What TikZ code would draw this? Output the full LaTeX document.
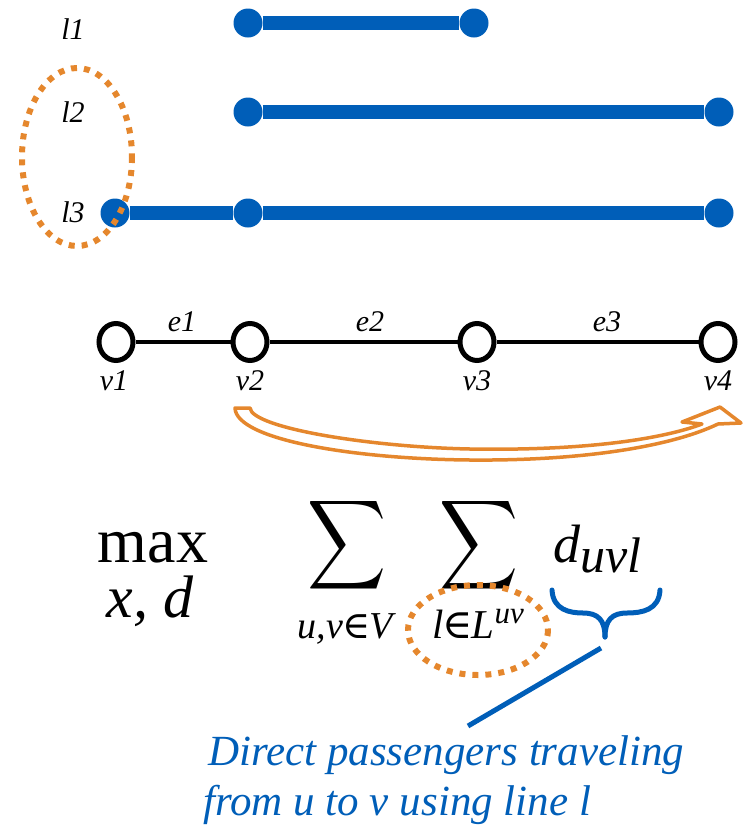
\documentclass[tikz,border=0pt]{standalone}
\usepackage{fontspec}
\setmainfont{Liberation Serif}[ItalicFont={Liberation Serif Italic}]
\newfontfamily\opsym{DejaVu Serif}
\usepackage{graphicx}
\usetikzlibrary{shapes.geometric}

\definecolor{lineblue}{RGB}{0,94,184}
\definecolor{hiorange}{RGB}{229,135,45}

\newcommand{\elemof}{{\upshape\opsym\kern-1pt∈\kern-1pt}}

\tikzset{
  stop/.style={circle, fill=lineblue, inner sep=0pt, minimum size=29pt},
  route/.style={line width=14pt, draw=lineblue},
  lbl/.style={font=\fontsize{30}{36}\selectfont\itshape, inner sep=0pt, anchor=base},
  station/.style={ellipse, draw, line width=5pt, fill=white, minimum width=34pt, minimum height=37pt, inner sep=0pt},
  track/.style={line width=4pt},
  dotring/.style={draw=hiorange, line width=6pt, dash pattern=on 6pt off 7pt},
  formula/.style={inner sep=0pt},
  note/.style={font=\fontsize{43}{48}\selectfont\itshape, text=lineblue, inner sep=0pt, anchor=base west},
}

\begin{document}
\begin{tikzpicture}[x=1pt, y=-1pt]
\useasboundingbox (0,0) rectangle (747,828);

% ---- transit lines l1, l2, l3 ----
\node[lbl] (tl1) at (73,39) {l1};
\node[lbl] (tl2) at (73,122) {l2};
\node[lbl] (tl3) at (73,222) {l3};

\node[stop] (a1) at (248,23) {};
\node[stop] (a2) at (474,23) {};
\node[stop] (b1) at (248,112) {};
\node[stop] (b2) at (719,112) {};
\node[stop] (c0) at (115,213) {};
\node[stop] (c1) at (248,213) {};
\node[stop] (c2) at (719,213) {};

\draw[route] (a1) -- (a2);
\draw[route] (b1) -- (b2);
\draw[route] (c0) -- (c1) -- (c2);

% selected lines
\draw[dotring] (77,157) ellipse [x radius=55, y radius=89];

% ---- network graph ----
\node[station] (v1) at (116,342) {};
\node[station] (v2) at (250,342) {};
\node[station] (v3) at (477,342) {};
\node[station] (v4) at (718,342) {};
\draw[track] (v1) -- (v2) -- (v3) -- (v4);

\node[lbl] (e1) at (182,331) {e1};
\node[lbl] (e2) at (370,331) {e2};
\node[lbl] (e3) at (607,331) {e3};
\node[lbl] (lv1) at (114,390) {v1};
\node[lbl] (lv2) at (250,390) {v2};
\node[lbl] (lv3) at (477,390) {v3};
\node[lbl] (lv4) at (718,390) {v4};

% curved block arrow from v2 towards v4
\draw[hiorange, line width=3.5pt, fill=white, line join=round]
  (235,408) -- (250,408)
  .. controls (252,428) and (370,447) .. (470,449)
  .. controls (590,451) and (665,438) .. (702,424)
  -- (682,422) -- (720,407) -- (741,423) -- (718,424)
  .. controls (670,447) and (580,461) .. (470,460)
  .. controls (355,459) and (236,440) .. (235,408) -- cycle;

% ---- objective ----
\node[formula, anchor=base, font=\fontsize{64}{70}\selectfont] (mx) at (153,562) {max};
\node[formula, anchor=base, font=\fontsize{60}{66}\selectfont\itshape] (xd) at (150,617) {x, d};

\node[formula] (s1) at (347.5,545) {\resizebox*{79pt}{100pt}{$\displaystyle\sum$}};
\node[formula] (s2) at (479,545) {\resizebox*{79pt}{100pt}{$\displaystyle\sum$}};

\node[formula, anchor=base, font=\fontsize{38}{40}\selectfont\itshape] (sub1) at (345,638)
  {u,\kern1pt v\elemof V};
\node[formula, anchor=base, font=\fontsize{41}{44}\selectfont\itshape] (sub2) at (478,638)
  {l\elemof L\raisebox{15pt}{\fontsize{31}{33}\selectfont uv}};

\node[formula, anchor=base west, font=\itshape] (duvl) at (553,562)
  {\fontsize{54}{58}\selectfont d\raisebox{-10pt}{\fontsize{50}{54}\selectfont uvl}};

\draw[dotring] (478,630) ellipse [x radius=70, y radius=45];

% brace under d_uvl
\coordinate (brL) at (552,590);
\coordinate (brR) at (660,590);
\coordinate (brT) at (605,637);
\draw[lineblue, line width=5pt, line cap=round, line join=round]
  (brL) .. controls (553,610) and (570,613) .. (583,613)
        .. controls (598,613) and (605,620) .. (brT);
\draw[lineblue, line width=5pt, line cap=round, line join=round]
  (brR) .. controls (659,610) and (642,613) .. (627,613)
        .. controls (612,613) and (605,620) .. (brT);

% leader to the explanation
\coordinate (ldA) at (601,648);
\coordinate (ldB) at (468,726);
\draw[lineblue, line width=5pt] (ldA) -- (ldB);

\node[note] (n1) at (208,765) {Direct passengers traveling};
\node[note] (n2) at (203,815) {from u to v using line l};
\end{tikzpicture}
\end{document}
